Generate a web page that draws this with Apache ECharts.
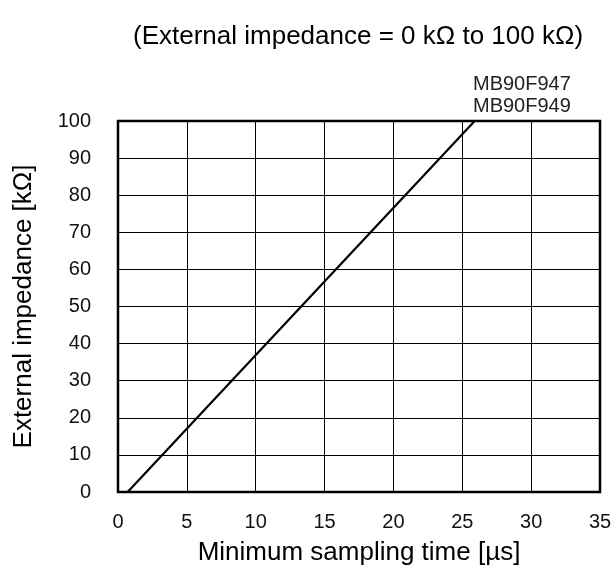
<!DOCTYPE html>
<html>
<head>
<meta charset="utf-8">
<script src="https://cdn.jsdelivr.net/npm/echarts@6/dist/echarts.min.js"></script>
<style>html,body{margin:0;padding:0;background:#fff}#c{width:612px;height:573px}</style>
</head>
<body>
<div id="c"></div>
<script>
const titleText = "(External impedance = 0 kΩ to 100 kΩ)";
const seriesLabel = "MB90F947\nMB90F949";
const xName = "Minimum sampling time [µs]";
const yName = "External impedance [kΩ]";
const samplingTime = [0.7, 25.9];
const impedance = [0, 100];
const xTicks = [0, 5, 10, 15, 20, 25, 30, 35];
const yTicks = [0, 10, 20, 30, 40, 50, 60, 70, 80, 90, 100];

const chart = echarts.init(document.getElementById('c'), null, {renderer: 'canvas'});
const font = 'Liberation Sans, Arial, sans-serif';
chart.setOption({
  animation: false,
  backgroundColor: '#fff',
  title: [
    {text: titleText, left: 128, top: 19, textStyle: {fontFamily: font, fontSize: 26, fontWeight: 'normal', color: '#000'}},
    {text: seriesLabel, left: 468, top: 68, textStyle: {fontFamily: font, fontSize: 20, fontWeight: 'normal', color: '#222', lineHeight: 22}}
  ],
  grid: {left: 118, top: 121, width: 482, height: 371, show: true, borderColor: '#000', borderWidth: 2.5, backgroundColor: 'transparent', containLabel: false, outerBoundsMode: 'none'},
  xAxis: {
    type: 'value', min: xTicks[0], max: xTicks[xTicks.length - 1], interval: 5,
    name: xName, nameLocation: 'middle', nameGap: 48,
    nameTextStyle: {fontFamily: font, fontSize: 26, color: '#000'},
    axisLine: {show: false}, axisTick: {show: false},
    axisLabel: {fontFamily: font, fontSize: 20, color: '#111', margin: 20},
    splitLine: {show: true, lineStyle: {color: '#000', width: 1}}
  },
  yAxis: {
    type: 'value', min: yTicks[0], max: yTicks[yTicks.length - 1], interval: 10,
    name: yName, nameLocation: 'middle', nameGap: 81,
    nameTextStyle: {fontFamily: font, fontSize: 26, color: '#000'},
    axisLine: {show: false}, axisTick: {show: false},
    axisLabel: {fontFamily: font, fontSize: 20, color: '#111', margin: 27},
    splitLine: {show: true, lineStyle: {color: '#000', width: 1}}
  },
  series: [{
    type: 'line',
    data: samplingTime.map((x, i) => [x, impedance[i]]),
    symbol: 'none',
    lineStyle: {color: '#000', width: 2.2},
    clip: false
  }]
});
</script>
</body>
</html>
